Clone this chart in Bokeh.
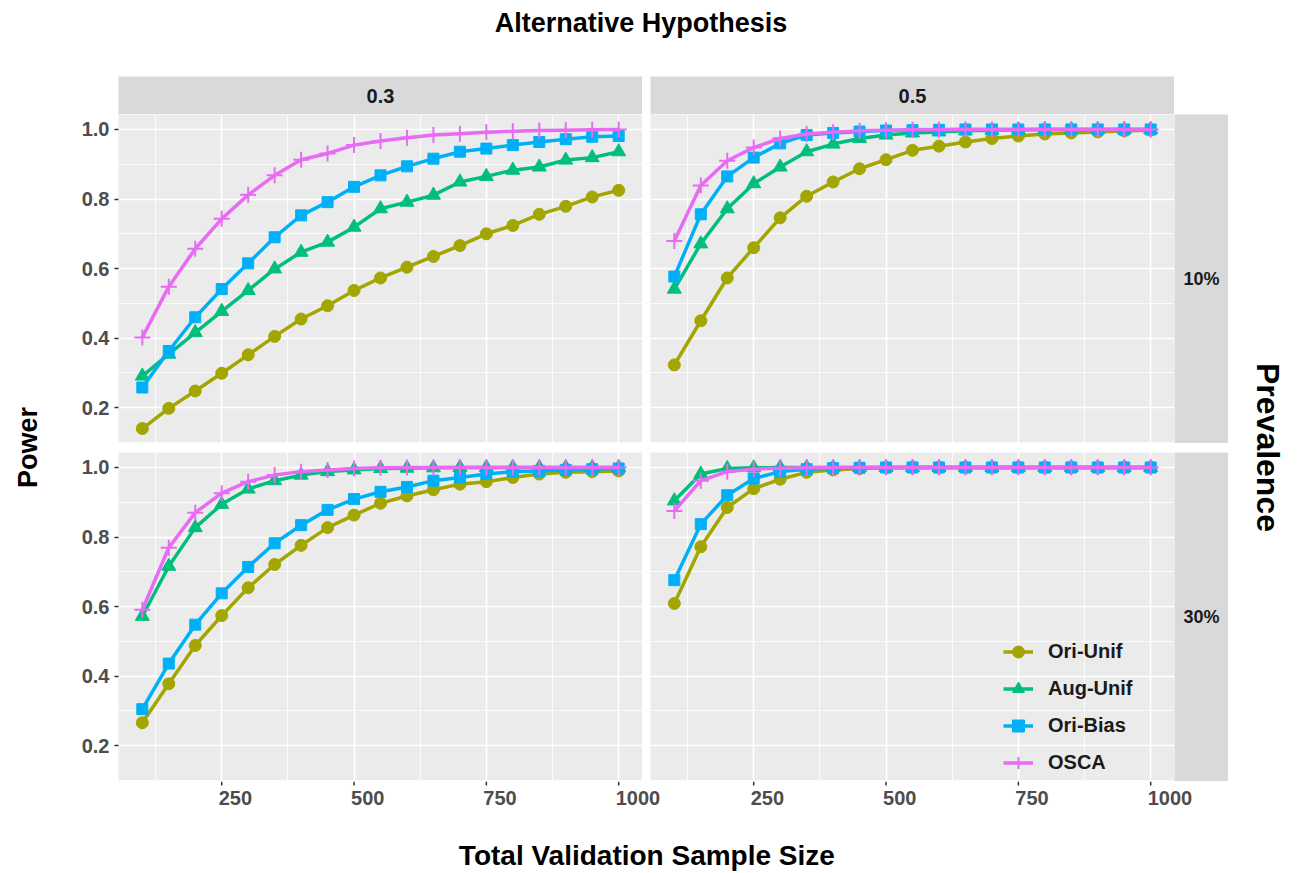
import math
from bokeh.plotting import figure
from bokeh.layouts import row, column
from bokeh.models import (Range1d, FixedTicker, Label, Legend, LegendItem,
                          Spacer, PrintfTickFormatter)
from bokeh.core.properties import value
from bokeh.embed import file_html
from bokeh.resources import INLINE

# ---------------- data ----------------
sample_size = [100, 150, 200, 250, 300, 350, 400, 450, 500, 550,
               600, 650, 700, 750, 800, 850, 900, 950, 1000]
methods = ["Ori-Unif", "Aug-Unif", "Ori-Bias", "OSCA"]
alt_labels = ["0.3", "0.5"]
prev_labels = ["10%", "30%"]
x_ticks = [250, 500, 750, 1000]
x_tick_labels = ["250", "500", "750", "1000"]
y_ticks = [0.2, 0.4, 0.6, 0.8, 1.0]

# Prevalence 10%, alternative 0.3
p10_a03_ori_unif = [0.140, 0.198, 0.248, 0.299, 0.352, 0.405, 0.455, 0.493, 0.537, 0.573,
                    0.604, 0.635, 0.666, 0.700, 0.724, 0.756, 0.779, 0.806, 0.825]
p10_a03_aug_unif = [0.291, 0.354, 0.416, 0.477, 0.537, 0.599, 0.647, 0.676, 0.719, 0.772,
                    0.791, 0.811, 0.849, 0.865, 0.883, 0.892, 0.912, 0.919, 0.936]
p10_a03_ori_bias = [0.258, 0.363, 0.460, 0.541, 0.615, 0.690, 0.753, 0.791, 0.835, 0.868,
                    0.894, 0.916, 0.936, 0.945, 0.955, 0.964, 0.972, 0.979, 0.981]
p10_a03_osca = [0.402, 0.548, 0.657, 0.743, 0.812, 0.868, 0.913, 0.931, 0.955, 0.967,
                0.976, 0.984, 0.988, 0.992, 0.995, 0.997, 0.998, 0.999, 1.000]

# Prevalence 10%, alternative 0.5
p10_a05_ori_unif = [0.323, 0.450, 0.573, 0.660, 0.746, 0.808, 0.849, 0.887, 0.913, 0.940,
                    0.952, 0.964, 0.974, 0.981, 0.987, 0.990, 0.993, 0.996, 0.998]
p10_a05_aug_unif = [0.541, 0.671, 0.772, 0.844, 0.892, 0.936, 0.958, 0.974, 0.984, 0.990,
                    0.993, 0.996, 0.998, 0.999, 1.000, 1.000, 1.000, 1.000, 1.000]
p10_a05_ori_bias = [0.577, 0.756, 0.865, 0.919, 0.960, 0.984, 0.990, 0.994, 0.997, 0.998,
                    0.999, 1.000, 1.000, 1.000, 1.000, 1.000, 1.000, 1.000, 1.000]
p10_a05_osca = [0.679, 0.839, 0.910, 0.948, 0.974, 0.987, 0.992, 0.996, 0.998, 0.999,
                1.000, 1.000, 1.000, 1.000, 1.000, 1.000, 1.000, 1.000, 1.000]

# Prevalence 30%, alternative 0.3
p30_a03_ori_unif = [0.266, 0.378, 0.488, 0.574, 0.654, 0.721, 0.776, 0.827, 0.863, 0.897,
                    0.918, 0.936, 0.952, 0.959, 0.971, 0.981, 0.986, 0.988, 0.990]
p30_a03_aug_unif = [0.572, 0.716, 0.827, 0.894, 0.938, 0.962, 0.978, 0.988, 0.993, 0.997,
                    0.998, 0.999, 1.000, 1.000, 1.000, 1.000, 1.000, 1.000, 1.000]
p30_a03_ori_bias = [0.305, 0.436, 0.548, 0.638, 0.714, 0.782, 0.834, 0.878, 0.909, 0.930,
                    0.944, 0.962, 0.971, 0.981, 0.988, 0.990, 0.993, 0.995, 0.997]
p30_a03_osca = [0.591, 0.769, 0.870, 0.926, 0.959, 0.978, 0.988, 0.993, 0.997, 0.999,
                1.000, 1.000, 1.000, 1.000, 1.000, 1.000, 1.000, 1.000, 1.000]

# Prevalence 30%, alternative 0.5
p30_a05_ori_unif = [0.609, 0.772, 0.885, 0.939, 0.966, 0.986, 0.993, 0.997, 0.999, 1.000,
                    1.000, 1.000, 1.000, 1.000, 1.000, 1.000, 1.000, 1.000, 1.000]
p30_a05_aug_unif = [0.904, 0.981, 0.997, 0.999, 1.000, 1.000, 1.000, 1.000, 1.000, 1.000,
                    1.000, 1.000, 1.000, 1.000, 1.000, 1.000, 1.000, 1.000, 1.000]
p30_a05_ori_bias = [0.676, 0.837, 0.920, 0.968, 0.988, 0.995, 0.998, 0.999, 1.000, 1.000,
                    1.000, 1.000, 1.000, 1.000, 1.000, 1.000, 1.000, 1.000, 1.000]
p30_a05_osca = [0.875, 0.962, 0.988, 0.995, 0.998, 0.999, 1.000, 1.000, 1.000, 1.000,
                1.000, 1.000, 1.000, 1.000, 1.000, 1.000, 1.000, 1.000, 1.000]

# ---------------- style ----------------
FONT = "Liberation Sans"
COLORS = ["#A3A500", "#00BF7D", "#00B0F6", "#E76BF3"]
MARKERS = ["circle", "triangle", "square", "cross"]
SIZES = [12, 14, 11, 16]
PANEL_W, PANEL_H = 524, 329
YBORDER, XBORDER = 65, 34
GAP_X, GAP_Y, STRIP_W = 8, 9, 54
TICK_FS = "20px"
X_RANGE = (55, 1045)
UNITS_PER_PX = (X_RANGE[1] - X_RANGE[0]) / PANEL_W
OVERHANG = 24  # px of the left tick strip that reach under the right panel


def panel(series, show_y, with_legend=False):
    p = figure(frame_width=PANEL_W, frame_height=PANEL_H,
               x_range=Range1d(*X_RANGE), y_range=Range1d(0.097, 1.043),
               x_axis_location=None,
               y_axis_location="left" if show_y else None,
               toolbar_location=None, output_backend="svg",
               min_border_left=YBORDER if show_y else 0,
               min_border_bottom=0, min_border_top=0, min_border_right=0,
               background_fill_color="#EBEBEB", border_fill_color="white",
               outline_line_color=None)
    p.xgrid.ticker = FixedTicker(ticks=x_ticks, minor_ticks=[125, 375, 625, 875])
    p.ygrid.ticker = FixedTicker(ticks=y_ticks, minor_ticks=[0.1, 0.3, 0.5, 0.7, 0.9])
    for g in (p.xgrid, p.ygrid):
        g.grid_line_color = "white"
        g.grid_line_width = 1.6
        g.minor_grid_line_color = "white"
        g.minor_grid_line_width = 0.8
    if show_y:
        ax = p.yaxis[0]
        ax.ticker = FixedTicker(ticks=y_ticks)
        ax.formatter = PrintfTickFormatter(format="%.1f")
        ax.axis_line_color = None
        ax.major_tick_line_color = "#333333"
        ax.major_tick_line_width = 1.5
        ax.major_tick_out = 4
        ax.major_tick_in = 0
        ax.minor_tick_out = 0
        ax.minor_tick_in = 0
        ax.major_label_standoff = 5
        ax.major_label_text_font = FONT
        ax.major_label_text_font_style = "bold"
        ax.major_label_text_font_size = TICK_FS
        ax.major_label_text_color = "#4D4D4D"

    items = []
    for name, ys, c, m, s in zip(methods, series, COLORS, MARKERS, SIZES):
        lr = p.line(sample_size, ys, line_color=c, line_width=3.5)
        if m == "cross":
            sr = p.scatter(sample_size, ys, marker=m, size=s, line_color=c, line_width=2)
        else:
            sr = p.scatter(sample_size, ys, marker=m, size=s, fill_color=c, line_color=c)
        items.append(LegendItem(label=name, renderers=[lr, sr]))
    if with_legend:
        leg = Legend(items=items, location=(353, 0), padding=0, margin=0,
                     spacing=0, glyph_width=30, glyph_height=37, label_height=37,
                     label_standoff=15, background_fill_alpha=0,
                     border_line_alpha=0, label_text_font=FONT,
                     label_text_font_style="bold", label_text_font_size="20px",
                     label_text_color="#1A1A1A", label_text_baseline="middle")
        p.add_layout(leg)
    return p


def x_tick_fig(with_left_border, cut_left_px, extra_right_px):
    # tick marks and tick labels under a panel, on the same x scale as the panel;
    # the frame is trimmed on the left / extended on the right by whole pixels
    # so that the labels, which start at their tick, are not clipped
    p = figure(frame_width=PANEL_W - cut_left_px + extra_right_px, frame_height=XBORDER,
               x_range=Range1d(X_RANGE[0] + cut_left_px * UNITS_PER_PX,
                               X_RANGE[1] + extra_right_px * UNITS_PER_PX),
               y_range=Range1d(0, XBORDER),
               x_axis_location=None, y_axis_location=None,
               toolbar_location=None, output_backend="svg",
               min_border_left=YBORDER if with_left_border else 0,
               min_border_bottom=0, min_border_top=0, min_border_right=0,
               outline_line_color=None, background_fill_color="white")
    p.grid.visible = False
    p.segment(x0=x_ticks, y0=[XBORDER] * len(x_ticks), x1=x_ticks,
              y1=[XBORDER - 4] * len(x_ticks), line_color="#333333", line_width=1.5)
    p.text(x=x_ticks, y=[XBORDER - 9] * len(x_ticks), text=x_tick_labels,
           text_align="left", text_baseline="top", x_offset=-3,
           text_font=value(FONT), text_font_style="bold", text_font_size=TICK_FS,
           text_color="#4D4D4D")
    return p


def text_fig(w, h, text, fx, fy, size, angle=0.0, style="bold", bg="white", color="black"):
    p = figure(width=w, height=h, x_range=Range1d(0, 1), y_range=Range1d(0, 1),
               toolbar_location=None, output_backend="svg",
               x_axis_location=None, y_axis_location=None, min_border=0,
               outline_line_color=None, background_fill_color=bg,
               border_fill_color=bg)
    p.grid.visible = False
    p.add_layout(Label(x=fx, y=fy, text=text, text_align="center",
                       text_baseline="middle", angle=angle, text_font=FONT,
                       text_font_style=style, text_font_size=size,
                       text_color=color))
    return p


STRIP = "#D9D9D9"
tl = panel([p10_a03_ori_unif, p10_a03_aug_unif, p10_a03_ori_bias, p10_a03_osca], True)
tr = panel([p10_a05_ori_unif, p10_a05_aug_unif, p10_a05_ori_bias, p10_a05_osca], False)
bl = panel([p30_a03_ori_unif, p30_a03_aug_unif, p30_a03_ori_bias, p30_a03_osca], True)
br = panel([p30_a05_ori_unif, p30_a05_aug_unif, p30_a05_ori_bias, p30_a05_osca], False,
           with_legend=True)
bl_ticks = x_tick_fig(True, 0, GAP_X + OVERHANG)
br_ticks = x_tick_fig(False, OVERHANG, STRIP_W)

strip_a03 = text_fig(PANEL_W, 38, alt_labels[0], 0.5, 0.5, "20px", bg=STRIP, color="#1A1A1A")
strip_a05 = text_fig(PANEL_W, 38, alt_labels[1], 0.5, 0.5, "20px", bg=STRIP, color="#1A1A1A")
strip_p10 = text_fig(STRIP_W, PANEL_H, prev_labels[0], 0.5, 0.5, "18px", bg=STRIP,
                     color="#1A1A1A")
strip_p30 = text_fig(STRIP_W, PANEL_H, prev_labels[1], 0.5, 0.5, "18px", bg=STRIP,
                     color="#1A1A1A")

MID_W = YBORDER + PANEL_W + GAP_X + PANEL_W + STRIP_W
TITLE_H, XTITLE_H = 76, 56
title_fig = text_fig(MID_W, TITLE_H, "Alternative Hypothesis", 0.5, 1 - 22 / TITLE_H, "27px")
xtitle_fig = text_fig(MID_W, XTITLE_H, "Total Validation Sample Size", 0.505,
                      1 - 40 / XTITLE_H, "28px")
TOTAL_H = TITLE_H + 38 + PANEL_H + GAP_Y + PANEL_H + XBORDER + XTITLE_H
power_fig = text_fig(53, TOTAL_H, "Power", 0.51, 1 - 447 / TOTAL_H, "27px", angle=math.pi / 2)
prev_fig = text_fig(64, TOTAL_H, "Prevalence", 0.62, 1 - 447 / TOTAL_H, "32px",
                    angle=-math.pi / 2)

strip_row = row(Spacer(width=YBORDER, height=38), strip_a03, Spacer(width=GAP_X, height=38),
                strip_a05, Spacer(width=STRIP_W, height=38), spacing=0)
top_row = row(tl, Spacer(width=GAP_X, height=PANEL_H), tr, strip_p10, spacing=0)
bottom_row = row(bl, Spacer(width=GAP_X, height=PANEL_H), br, strip_p30, spacing=0)
ticks_row = row(bl_ticks, br_ticks, spacing=0)
middle = column(title_fig, strip_row, top_row, Spacer(width=MID_W, height=GAP_Y),
                bottom_row, ticks_row, xtitle_fig, spacing=0)
layout = row(power_fig, middle, prev_fig, spacing=0)

open("out.html", "w").write(file_html(layout, INLINE, title="Power curves"))
